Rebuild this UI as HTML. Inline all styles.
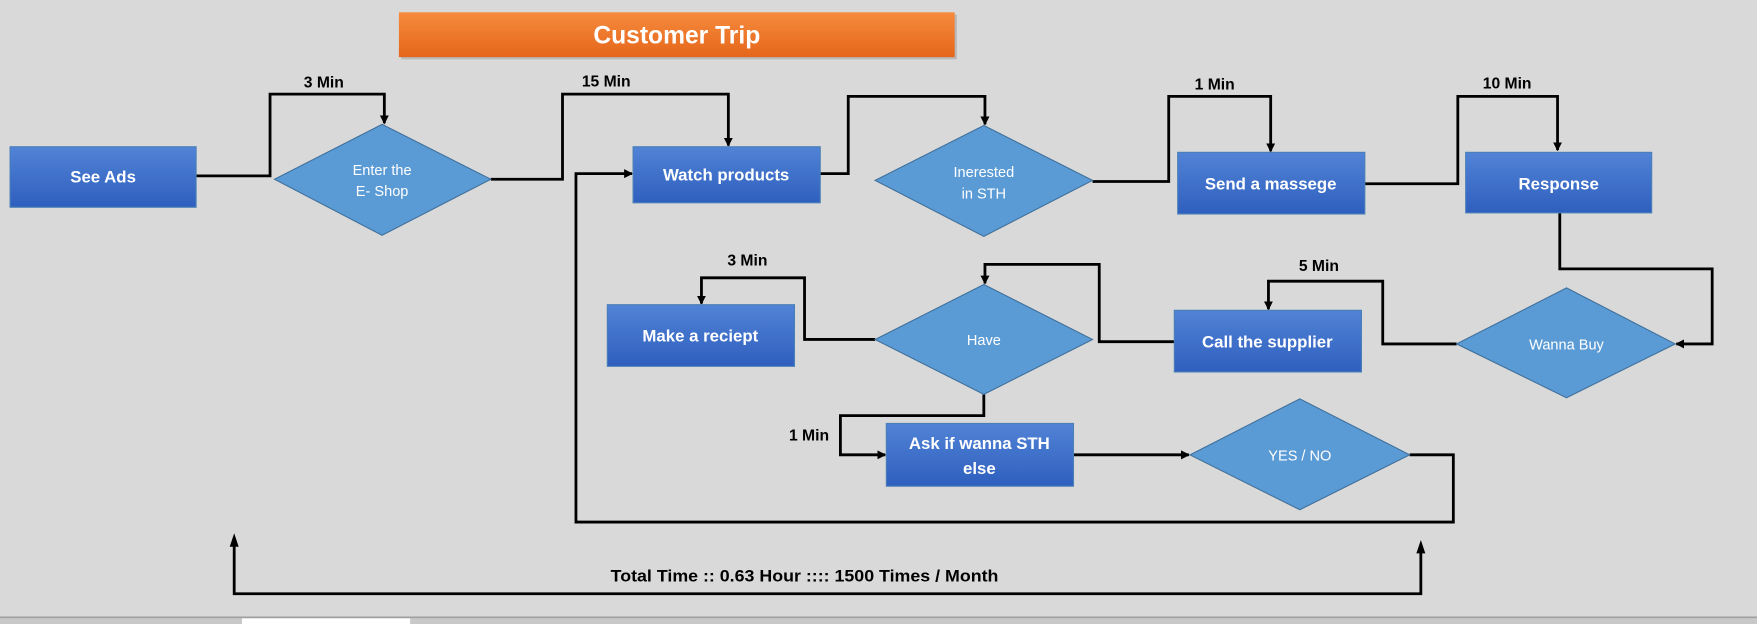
<!DOCTYPE html>
<html><head><meta charset="utf-8"><style>
html,body{margin:0;padding:0;background:#d9d9d9;overflow:hidden}
svg{display:block}
text{font-family:"Liberation Sans",sans-serif}
</style></head><body>
<svg width="1757" height="624" viewBox="0 0 1568 557" preserveAspectRatio="none" xmlns="http://www.w3.org/2000/svg">
<defs>
<linearGradient id="bx" x1="0" y1="0" x2="0" y2="1"><stop offset="0" stop-color="#5183d6"/><stop offset="1" stop-color="#2f5fbe"/></linearGradient>
<linearGradient id="og" x1="0" y1="0" x2="0" y2="1"><stop offset="0" stop-color="#f68b3e"/><stop offset="1" stop-color="#e5661a"/></linearGradient>
<marker id="a" markerWidth="8" markerHeight="8" refX="7" refY="4" orient="auto" markerUnits="userSpaceOnUse"><path d="M0,0 L8,4 L0,8z" fill="#000"/></marker>
</defs>
<rect width="1568" height="557" fill="#d9d9d9"/>
<rect x="358" y="13" width="496" height="40" fill="#999" opacity=".5"/>
<rect x="356" y="11" width="496" height="40" fill="url(#og)"/>
<text x="604" y="39" font-size="22" font-weight="bold" fill="#fff" text-anchor="middle">Customer Trip</text>

<g fill="none" stroke="#000" stroke-width="2.5">
<polyline points="175,157 241,157 241,84 343,84 343,110" marker-end="url(#a)"/>
<polyline points="438,160 502,160 502,84 650,84 650,130" marker-end="url(#a)"/>
<polyline points="732,155 757,155 757,86 879,86 879,111" marker-end="url(#a)"/>
<polyline points="975,162 1043,162 1043,86 1134,86 1134,135" marker-end="url(#a)"/>
<polyline points="1218,164 1301,164 1301,86 1390,86 1390,134" marker-end="url(#a)"/>
<polyline points="1392,190 1392,240 1528,240 1528,307 1496,307" marker-end="url(#a)"/>
<polyline points="1300,307 1234,307 1234,251 1132,251 1132,276" marker-end="url(#a)"/>
<polyline points="1048,305 981,305 981,236 879,236 879,253" marker-end="url(#a)"/>
<polyline points="781,303 718,303 718,248 626,248 626,271" marker-end="url(#a)"/>
<polyline points="878,352 878,371 750,371 750,406 790,406" marker-end="url(#a)"/>
<polyline points="958,406 1061,406" marker-end="url(#a)"/>
<polyline points="1258,406 1297,406 1297,466 514,466 514,155 564,155" marker-end="url(#a)"/>
<polyline points="209,480 209,530 1268,530 1268,486"/>
</g>
<path d="M205,488 L209,476 L213,488z M1264,494 L1268,482 L1272,494z" fill="#000"/>

<g font-size="14" font-weight="bold" fill="#000" text-anchor="middle">
<text x="289" y="78">3 Min</text>
<text x="541" y="77">15 Min</text>
<text x="1084" y="80">1 Min</text>
<text x="1345" y="79">10 Min</text>
<text x="1177" y="242">5 Min</text>
<text x="667" y="237">3 Min</text>
<text x="722" y="393">1 Min</text>
<text x="718" y="519" font-size="15" textLength="346" lengthAdjust="spacingAndGlyphs">Total Time :: 0.63 Hour :::: 1500 Times / Month</text>
</g>

<g stroke="#4a7fb8" stroke-width="1">
<rect x="9" y="131" width="166" height="54" fill="url(#bx)"/>
<rect x="565" y="131" width="167" height="50" fill="url(#bx)"/>
<rect x="1051" y="136" width="167" height="55" fill="url(#bx)"/>
<rect x="1308" y="136" width="166" height="54" fill="url(#bx)"/>
<rect x="1048" y="277" width="167" height="55" fill="url(#bx)"/>
<rect x="542" y="272" width="167" height="55" fill="url(#bx)"/>
<rect x="791" y="378" width="167" height="56" fill="url(#bx)"/>
</g>
<g fill="#5b9bd5" stroke="#41719c" stroke-width="1">
<polygon points="245,160 341,111 438,160 341,210"/>
<polygon points="781,161 878,112 975,161 878,211"/>
<polygon points="1300,307 1398,257 1495,307 1398,355"/>
<polygon points="781,303 878,254 975,303 878,352"/>
<polygon points="1062,406 1160,356 1258,406 1160,455"/>
</g>
<g font-size="15" font-weight="bold" fill="#fff" text-anchor="middle">
<text x="92" y="163">See Ads</text>
<text x="648" y="161">Watch products</text>
<text x="1134" y="169">Send a massege</text>
<text x="1391" y="169">Response</text>
<text x="1131" y="310">Call the supplier</text>
<text x="625" y="305">Make a reciept</text>
<text x="874" y="401">Ask if wanna STH</text>
<text x="874" y="423">else</text>
</g>
<g font-size="13" fill="#fff" text-anchor="middle">
<text x="341" y="156">Enter the</text>
<text x="341" y="175">E- Shop</text>
<text x="878" y="158">Inerested</text>
<text x="878" y="177">in STH</text>
<text x="1398" y="312">Wanna Buy</text>
<text x="878" y="308">Have</text>
<text x="1160" y="411">YES / NO</text>
</g>
<rect x="0" y="551" width="1568" height="6" fill="#c8c8c8"/>
<line x1="0" y1="551" x2="1568" y2="551" stroke="#a0a0a0" stroke-width="1.5"/>
<rect x="216" y="552" width="150" height="5" fill="#fff"/>
</svg>
</body></html>
